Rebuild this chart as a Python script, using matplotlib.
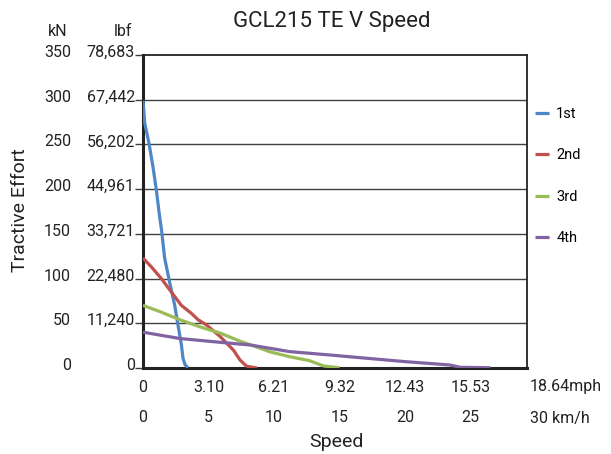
import matplotlib
matplotlib.use("Agg")
import matplotlib.pyplot as plt
import matplotlib.transforms as mtransforms

plt.rcParams['font.family'] = ['Roboto', 'DejaVu Sans']

title = "GCL215 TE V Speed"
series_names = ["1st", "2nd", "3rd", "4th"]
colors = ["#4F86C6", "#C0504D", "#9BBB59", "#8064A2"]

# speed in km/h, tractive effort in kN
s1_x = [0, 0.13, 0.46, 0.76, 1.02, 1.27, 1.4, 1.65, 2.03, 2.42, 2.67, 2.93, 3.05, 3.2, 3.43]
s1_y = [299, 274, 251, 225, 199, 169, 156, 123, 96, 70, 48, 26, 11, 4, 0]
s2_x = [0, 0.64, 1.4, 2.16, 2.93, 3.7, 4.2, 4.86, 5.9, 6.9, 7.4, 7.9, 8.7]
s2_y = [123, 113, 100, 85, 70, 61, 54, 48, 35, 20, 9, 2, 0]
s3_x = [0, 1.3, 2.8, 4.35, 5.9, 7.4, 8.2, 9.7, 11.2, 12.7, 13.8, 15.0]
s3_y = [70, 63, 54, 46, 39, 30, 26, 18, 12.6, 8.2, 2.2, 0.3]
s4_x = [0, 2.8, 5.9, 8.2, 9.7, 11.2, 14.3, 16.6, 20.1, 23.4, 24.2, 26.5]
s4_y = [40, 33, 28.7, 25.7, 22, 18.3, 14.5, 11.5, 7, 3.4, 0.8, 0.3]

kn_ticks = [0, 50, 100, 150, 200, 250, 300, 350]
lbf_labels = ["0", "11,240", "22,480", "33,721", "44,961", "56,202", "67,442", "78,683"]
kmh_ticks = [0, 5, 10, 15, 20, 25]
kmh_labels = ["0", "5", "10", "15", "20", "25"]
mph_labels = ["0", "3.10", "6.21", "9.32", "12.43", "15.53"]
mph_last = "18.64mph"
kmh_last = "30 km/h"

W, H = 611, 454
fig = plt.figure(figsize=(W / 100, H / 100), dpi=100)
L, R, T, B = 143, 527, 55, 368
ax = fig.add_axes([L / W, 1 - B / H, (R - L) / W, (B - T) / H])

series = [(s1_x, s1_y), (s2_x, s2_y), (s3_x, s3_y), (s4_x, s4_y)]
for (xs, ys), name, c in zip(series, series_names, colors):
    ax.plot(xs, ys, color=c, lw=2.3, label=name, solid_capstyle='butt', zorder=3)

ax.set_xlim(0, 29.3)
ax.set_ylim(0, 350)
ax.set_xticks([])
ax.set_yticks(kn_ticks)
ax.set_yticklabels([])
ax.tick_params(axis='y', length=6, width=1, color='#404040')
for y in kn_ticks[1:-1]:
    ax.axhline(y, color='#404040', lw=1, zorder=1)

for side in ['left', 'bottom']:
    ax.spines[side].set_linewidth(2.2)
    ax.spines[side].set_color('#222222')
for side in ['top', 'right']:
    ax.spines[side].set_linewidth(1.3)
    ax.spines[side].set_color('#222222')

fs = 11.5
tc = '#222222'
ytr = mtransforms.blended_transform_factory(fig.transFigure, ax.transData)
ytr = ytr + mtransforms.ScaledTranslation(0, 2.5 / 100, fig.dpi_scale_trans)
for y, lb in zip(kn_ticks, lbf_labels):
    ax.text(71 / W, y, str(y), transform=ytr, ha='right', va='center', fontsize=fs, color=tc)
    ax.text(135 / W, y, lb, transform=ytr, ha='right', va='center', fontsize=fs, color=tc)

xtr = mtransforms.blended_transform_factory(ax.transData, fig.transFigure)
for k, ml, kl in zip(kmh_ticks, mph_labels, kmh_labels):
    ax.text(k, 1 - 387 / H, ml, transform=xtr, ha='center', va='center', fontsize=fs, color=tc)
    ax.text(k, 1 - 418 / H, kl, transform=xtr, ha='center', va='center', fontsize=fs, color=tc)
fig.text(530 / W, 1 - 387 / H, mph_last, ha='left', va='center', fontsize=fs, color=tc)
fig.text(530 / W, 1 - 418 / H, kmh_last, ha='left', va='center', fontsize=fs, color=tc)

fig.text(58 / W, 1 - 31 / H, "kN", ha='center', va='center', fontsize=fs, color=tc)
fig.text(123 / W, 1 - 31 / H, "lbf", ha='center', va='center', fontsize=fs, color=tc)
fig.text(332 / W, 1 - 21 / H, title, ha='center', va='center', fontsize=16, color=tc)
fig.text(336 / W, 1 - 442 / H, "Speed", ha='center', va='center', fontsize=14, color=tc)
fig.text(20 / W, 1 - 210 / H, "Tractive Effort", ha='center', va='center', rotation=90,
         fontsize=14, color=tc)

ax.legend(loc='center left', bbox_to_anchor=(1.0, (B - 176) / (B - T)), frameon=False,
          fontsize=10.5, handlelength=0.95, handletextpad=0.5, labelspacing=1.88,
          borderaxespad=0.55, borderpad=0)

fig.savefig("out.png", dpi=100)
